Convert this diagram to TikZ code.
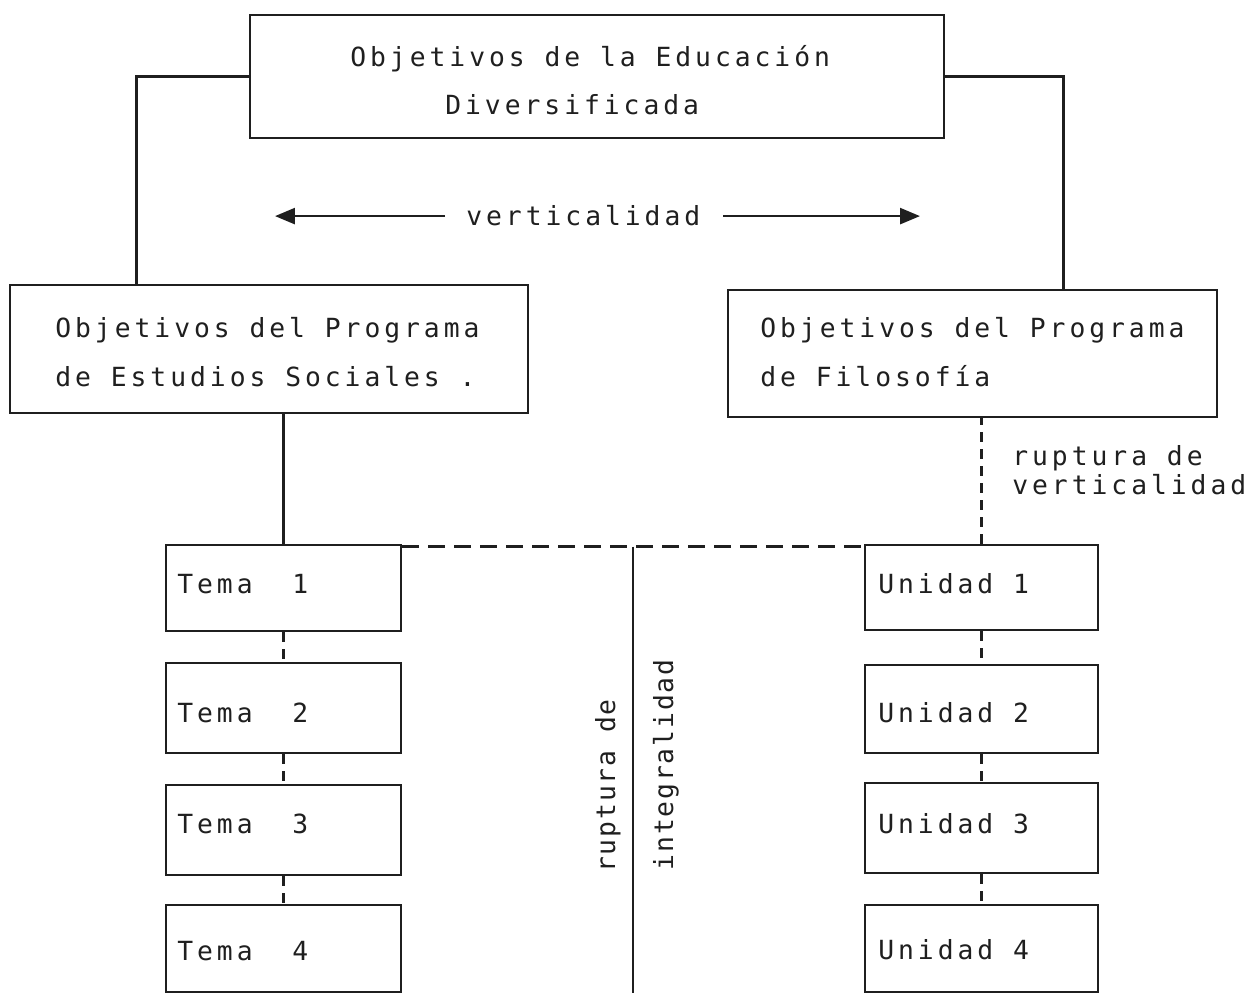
\documentclass[tikz,border=0pt]{standalone}
\usepackage{fontspec}
\usetikzlibrary{arrows.meta,calc}
% plotter-style monospaced lettering, widely spaced
\newfontfamily\plotfont[LetterSpace=15]{DejaVu Sans Mono}
\newfontfamily\plotfontn[LetterSpace=7]{DejaVu Sans Mono}
\definecolor{ink}{gray}{0.12}
\begin{document}
\begin{tikzpicture}[x=0.02cm,y=-0.02cm,
  box/.style={draw=ink, line width=1.5pt, inner sep=0pt},
  lbl/.style={anchor=base west, inner sep=0pt, text=ink,
    font=\plotfont\fontsize{15pt}{18pt}\selectfont},
  rot/.style={anchor=base, inner sep=0pt, text=ink, rotate=90,
    font=\plotfontn\fontsize{15pt}{18pt}\selectfont},
  link/.style={draw=ink, line width=1.5pt},
  dlink/.style={link, dash pattern=on 0.2cm off 0.14cm},
  hdash/.style={link, dash pattern=on 0.34cm off 0.18cm},
  tip/.style={-{Triangle[length=0.4cm,width=0.32cm]}}
]
\useasboundingbox (0,0) rectangle (1249,993);

% boxes
\node[box, minimum width=13.88cm, minimum height=2.46cm] (top) at (597,76.5) {};
\node[box, minimum width=10.36cm, minimum height=2.56cm] (LP) at (269,349) {};
\node[box, minimum width=9.78cm, minimum height=2.54cm] (RP) at (972.5,353.5) {};

\node[box, minimum width=4.70cm, minimum height=1.72cm] (T1) at (283.5,588) {};
\node[box, minimum width=4.70cm, minimum height=1.80cm] (T2) at (283.5,708) {};
\node[box, minimum width=4.70cm, minimum height=1.80cm] (T3) at (283.5,830) {};
\node[box, minimum width=4.70cm, minimum height=1.74cm] (T4) at (283.5,948.5) {};

\node[box, minimum width=4.66cm, minimum height=1.70cm] (U1) at (981.5,587.5) {};
\node[box, minimum width=4.66cm, minimum height=1.76cm] (U2) at (981.5,709) {};
\node[box, minimum width=4.66cm, minimum height=1.80cm] (U3) at (981.5,828) {};
\node[box, minimum width=4.66cm, minimum height=1.74cm] (U4) at (981.5,948.5) {};

% box lettering
\node[lbl] (topA) at (350,67) {Objetivos de la Educación};
\node[lbl] (topB) at (445,115) {Diversificada};
\node[lbl] (LPa) at (55,338) {Objetivos del Programa};
\node[lbl] (LPb) at (55,387) {de Estudios Sociales .};
\node[lbl] (RPa) at (760,338) {Objetivos del Programa};
\node[lbl] (RPb) at (760,387) {de Filosofía};

\node[lbl] (T1t) at (177,594) {Tema\ \ 1};
\node[lbl] (T2t) at (177,722) {Tema\ \ 2};
\node[lbl] (T3t) at (177,833) {Tema\ \ 3};
\node[lbl] (T4t) at (177,960) {Tema\ \ 4};

\node[lbl] (U1t) at (878,594) {Unidad 1};
\node[lbl] (U2t) at (878,722) {Unidad 2};
\node[lbl] (U3t) at (878,833) {Unidad 3};
\node[lbl] (U4t) at (878,959) {Unidad 4};

% free labels
\node[lbl] (vert) at (466,226) {verticalidad};
\node[lbl] (rvA) at (1012,466) {ruptura de};
\node[lbl] (rvB) at (1012,495) {verticalidad};
\node[rot] (riA) at (615,786) {ruptura de};
\node[rot] (riB) at (673,765) {integralidad};

% upper connectors
\draw[link] (top.west) -| ([xshift=2.56cm]LP.north west);
\draw[link] (top.east) -| ([xshift=-3.1cm]RP.north east);

% double arrow around "verticalidad"
\coordinate (arrL) at (275,216);
\coordinate (arrR) at (920,216);
\draw[link,tip] ([xshift=-0.42cm]vert.west) -- (vert.west -| arrL);
\draw[link,tip] ([xshift=0.45cm]vert.east) -- (vert.east -| arrR);

% programme to first unit
\draw[link] (T1.north) -- (T1.north |- LP.south);
\draw[dlink] (U1.north) -- (U1.north |- RP.south);

% chains of units
\draw[dlink] (T1.south) -- (T2.north);
\draw[dlink] (T2.south) -- (T3.north);
\draw[dlink] (T3.south) -- (T4.north);
\draw[dlink] (U1.south) -- (U2.north);
\draw[dlink] (U2.south) -- (U3.north);
\draw[dlink] (U3.south) -- (U4.north);

% horizontal break and central divider
\draw[hdash] ([yshift=-0.06cm]T1.north east) -- ([yshift=-0.06cm]U1.north west);
\coordinate (mt) at ($([yshift=-0.06cm]T1.north east)!0.5!([yshift=-0.06cm]U1.north west)$);
\coordinate (mb) at (mt |- 0,1000);
\draw[link] (mt) -- (mb);
\end{tikzpicture}
\end{document}
